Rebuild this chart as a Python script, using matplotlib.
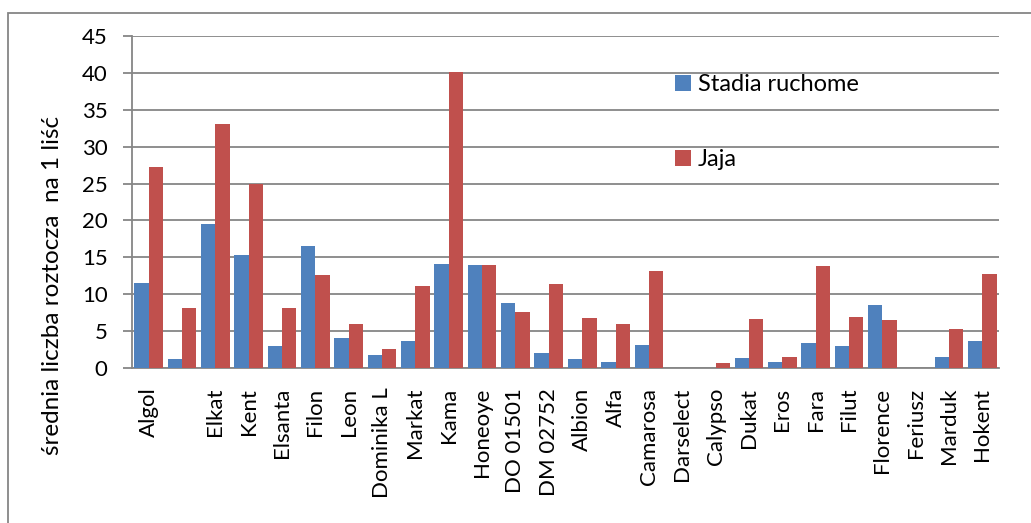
import numpy as np
import matplotlib
matplotlib.use("Agg")
from matplotlib import pyplot as plt
from matplotlib.patches import Rectangle

plt.rcParams['font.family'] = ['Lato', 'DejaVu Sans']

CULTIVARS = ['Algol', '', 'Elkat', 'Kent', 'Elsanta', 'Filon', 'Leon', 'Dominika L',
             'Markat', 'Kama', 'Honeoye', 'DO 01501', 'DM 02752', 'Albion', 'Alfa',
             'Camarosa', 'Darselect', 'Calypso', 'Dukat', 'Eros', 'Fara', 'Filut',
             'Florence', 'Feriusz', 'Marduk', 'Hokent']

# mean mites per leaf
MOBILE = [11.6, 1.2, 19.5, 15.3, 3.0, 16.6, 4.1, 1.85, 3.65, 14.1, 14.0, 8.9,
          2.1, 1.2, 0.85, 3.15, 0.0, 0.0, 1.45, 0.8, 3.4, 3.05, 8.5, 0.0, 1.5, 3.7]
EGGS = [27.2, 8.1, 33.1, 25.0, 8.1, 12.6, 6.05, 2.65, 11.2, 40.1, 14.0, 7.6,
        11.4, 6.8, 6.05, 13.2, 0.0, 0.75, 6.65, 1.55, 13.9, 6.9, 6.5, 0.0, 5.3, 12.8]

BLUE = '#4F81BD'
RED = '#C0504D'
GRID = '#868686'

fig = plt.figure(figsize=(10.31, 5.23), dpi=100)
ax = fig.add_axes([0.128, 0.2958, 0.841, 0.636])

x = np.arange(len(CULTIVARS))
w = 0.43
ax.bar(x - w / 2, MOBILE, width=w, color=BLUE, label='Stadia ruchome', zorder=3)
ax.bar(x + w / 2, EGGS, width=w, color=RED, label='Jaja', zorder=3)

ax.set_xlim(-0.5, len(CULTIVARS) - 0.5)
ax.set_ylim(0, 45)
ax.set_yticks(np.arange(0, 46, 5))
ax.yaxis.grid(True, color=GRID, linewidth=1.3, zorder=0)
ax.set_axisbelow(True)

ax.set_xticks(x)
ax.set_xticklabels(CULTIVARS, rotation=90, ha='center', va='top')
ax.tick_params(axis='x', length=0, pad=14, labelsize=16)
ax.tick_params(axis='y', length=6.5, width=1.3, color=GRID, pad=11, labelsize=16)

for side in ('top', 'right'):
    ax.spines[side].set_visible(False)
for side in ('left', 'bottom'):
    ax.spines[side].set_color(GRID)
    ax.spines[side].set_linewidth(1.3)

ax.set_ylabel('średnia liczba roztocza  na 1 liść', fontsize=17.5)
ax.yaxis.set_label_coords(-0.080, 0.25)

ax.legend(loc='upper left', bbox_to_anchor=(0.626, 0.885), frameon=False,
          borderpad=0, borderaxespad=0, handlelength=0.68, handleheight=0.68,
          handletextpad=0.3, labelspacing=2.3, fontsize=17)

# chart-area frame
fig.patches.append(Rectangle((8 / 1031, -0.5), 2.0, 0.5 + 1 - 13 / 523,
                             transform=fig.transFigure, fill=False,
                             edgecolor=GRID, linewidth=1.3))

fig.savefig('out.png', dpi=100, facecolor='white')
